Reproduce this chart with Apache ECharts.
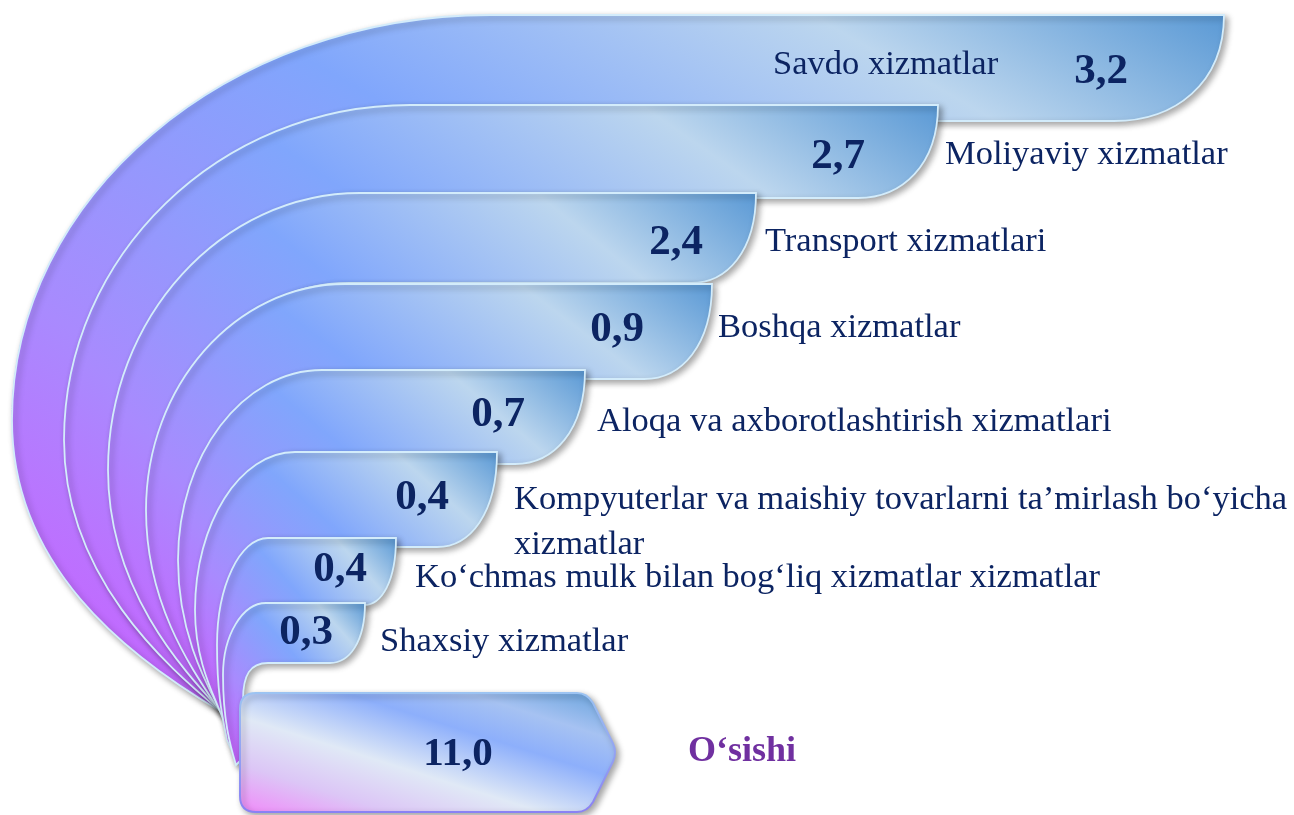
<!DOCTYPE html>
<html>
<head>
<meta charset="utf-8">
<script src="https://cdn.jsdelivr.net/npm/echarts@6/dist/echarts.min.js"></script>
<style>html,body{margin:0;padding:0;background:#fff}#chart{width:1294px;height:815px}</style>
</head>
<body>
<div id="chart"></div>
<script>
// ---------------- data ----------------
const categories = [
  'Savdo xizmatlar',
  'Moliyaviy xizmatlar',
  'Transport xizmatlari',
  'Boshqa xizmatlar',
  'Aloqa va axborotlashtirish xizmatlari',
  'Kompyuterlar va maishiy tovarlarni ta’mirlash bo‘yicha\nxizmatlar',
  'Ko‘chmas mulk bilan bog‘liq xizmatlar xizmatlar',
  'Shaxsiy xizmatlar'
];
const values = [3.2, 2.7, 2.4, 0.9, 0.7, 0.4, 0.4, 0.3];
const totalName = 'O‘sishi';
const totalValue = 11.0;

// ---------------- layout (decorative geometry, in axis units) ----------------
// yt, yb, xr, rx, xf, xl, yl, bx, by, c2x, c2y
const bandGeom = [
  [15, 121, 1224, 110, 490, 12, 420, 222, 712, 125, 655],
  [105, 198, 938, 80, 410, 64, 440, 222, 712, 165, 665],
  [193, 283, 756, 65, 360, 108, 470, 222, 712, 185, 672],
  [284, 379, 712, 68, 345, 146, 510, 222, 714, 200, 680],
  [370, 464, 585, 70, 322, 178, 560, 223, 716, 210, 690],
  [452, 547, 497, 60, 295, 195, 610, 224, 722, 217, 700],
  [538, 605, 396, 32, 268, 217, 645, 227, 740, 222, 715],
  [603, 663, 365, 35, 266, 223, 675, 236, 765, 230, 745]
];
// labelX, labelY, valueX, valueY
const textPos = [
  [773, 65, 1101, 72],
  [945, 155, 838, 157],
  [765, 242, 676, 243],
  [718, 328, 617, 330],
  [597, 422, 498, 415],
  [514, 522, 422, 498],
  [415, 578, 340, 570],
  [380, 642, 306, 633]
];
const boxGeom = { x0: 240, y0: 693, y1: 812, xf: 583, xt: 617, r: 16 };
const totalPos = { vx: 458, vy: 754, lx: 688, ly: 752 };

const fmt = v => v.toFixed(1).replace('.', ',');
const NAVY = '#0c2462';
const SERIF = '"Liberation Serif", "Times New Roman", serif';

const bandStops = [
  { offset: 0, color: '#5a99d5' },
  { offset: 0.17, color: '#bcd6ee' },
  { offset: 0.41, color: '#80a6fc' },
  { offset: 0.7, color: '#a98afe' },
  { offset: 1, color: '#cc5cff' }
];
const boxStops = [
  { offset: 0, color: '#62a0da' },
  { offset: 0.2, color: '#a6c2f2' },
  { offset: 0.36, color: '#8daffb' },
  { offset: 0.6, color: '#e0e9f6' },
  { offset: 0.8, color: '#dcc6f6' },
  { offset: 1, color: '#f08af9' }
];

// gradient whose iso-lines follow the box diagonal (top-left -> bottom-right),
// running from the top-right corner to the bottom-left corner
function diagGradient(p0, p1, stops) {
  const x0 = p0[0], y0 = p0[1], x1 = p1[0], y1 = p1[1];
  const w = x1 - x0, h = y1 - y0, L = Math.hypot(w, h);
  const ux = -h / L, uy = w / L, len = 2 * w * h / L;
  return new echarts.graphic.LinearGradient(x1, y0, x1 + ux * len, y0 + uy * len, stops, true);
}

function renderBand(params, api) {
  const i = api.value(0);
  const g = bandGeom[i];
  const n = bandGeom[i + 1];
  const P = (x, y) => {
    const p = api.coord([x, y]);
    return p[0].toFixed(1) + ' ' + p[1].toFixed(1);
  };
  const [yt, yb, xr, rx, xf, xl, yl, bx, by, c2x, c2y] = g;
  const k = 0.55;
  const h = yb - yt;
  let d = 'M' + P(bx, by);
  d += ' C' + P(c2x, c2y) + ' ' + P(xl, yl + 0.5 * (by - yl)) + ' ' + P(xl, yl);
  d += ' C' + P(xl, yl - k * (yl - yt)) + ' ' + P(xf - k * (xf - xl), yt) + ' ' + P(xf, yt);
  d += ' L' + P(xr, yt);
  d += ' C' + P(xr, yt + 0.65 * h) + ' ' + P(xr - 0.45 * rx, yb) + ' ' + P(xr - rx, yb);
  if (n) {
    const [nyt, nyb, nxr, nrx, nxf, nxl, nyl, nbx, nby, nc2x, nc2y] = n;
    const ins = 7;
    d += ' L' + P(nxf + 4, yb);
    d += ' C' + P(nxf - k * (nxf - nxl) + 4, yb) + ' ' + P(nxl + ins, nyl - k * (nyl - yb)) + ' ' + P(nxl + ins, nyl);
    d += ' C' + P(nxl + ins, nyl + 0.5 * (nby - nyl)) + ' ' + P(nc2x + 3, nc2y) + ' ' + P(nbx + 2, nby);
  } else {
    d += ' L' + P(268, yb);
    d += ' C' + P(250, yb) + ' ' + P(243, yb + 12) + ' ' + P(243, 700);
    d += ' L' + P(241, by - 5);
  }
  d += ' Z';
  const tp = textPos[i];
  const lp = api.coord([tp[0], tp[1]]);
  const vp = api.coord([tp[2], tp[3]]);
  const fill = diagGradient(api.coord([xl, yt]), api.coord([xr, by]), bandStops);
  return {
    type: 'group',
    children: [
      {
        type: 'path',
        shape: { pathData: d },
        style: {
          fill: fill,
          stroke: '#d3ecfb',
          lineWidth: 1.8,
          shadowBlur: 6,
          shadowOffsetX: 3,
          shadowOffsetY: 3,
          shadowColor: 'rgba(0,0,0,0.35)'
        }
      },
      {
        type: 'text', x: vp[0], y: vp[1], z2: 50,
        style: {
          text: fmt(api.value(1)), fill: NAVY, fontFamily: SERIF,
          fontSize: 43, fontWeight: 'bold', align: 'center', verticalAlign: 'middle'
        }
      },
      {
        type: 'text', x: lp[0], y: lp[1], z2: 50,
        style: {
          text: categories[i], fill: NAVY, fontFamily: SERIF,
          fontSize: 34.5, lineHeight: 45, align: 'left', verticalAlign: 'middle'
        }
      }
    ]
  };
}

function renderTotal(params, api) {
  const b = boxGeom;
  const P = (x, y) => {
    const p = api.coord([x, y]);
    return p[0].toFixed(1) + ' ' + p[1].toFixed(1);
  };
  const ym = (b.y0 + b.y1) / 2;
  let d = 'M' + P(b.x0 + b.r, b.y0);
  d += ' L' + P(b.xf - 6, b.y0);
  d += ' Q' + P(b.xf + 4, b.y0) + ' ' + P(b.xf + 10, b.y0 + 10);
  d += ' L' + P(b.xt - 4, ym - 9);
  d += ' Q' + P(b.xt, ym) + ' ' + P(b.xt - 4, ym + 9);
  d += ' L' + P(b.xf + 10, b.y1 - 10);
  d += ' Q' + P(b.xf + 4, b.y1) + ' ' + P(b.xf - 6, b.y1);
  d += ' L' + P(b.x0 + b.r, b.y1);
  d += ' Q' + P(b.x0, b.y1) + ' ' + P(b.x0, b.y1 - b.r);
  d += ' L' + P(b.x0, b.y0 + b.r);
  d += ' Q' + P(b.x0, b.y0) + ' ' + P(b.x0 + b.r, b.y0);
  d += ' Z';
  const vp = api.coord([totalPos.vx, totalPos.vy]);
  const lp = api.coord([totalPos.lx, totalPos.ly]);
  const fill = diagGradient(api.coord([b.x0, b.y0]), api.coord([b.xt, b.y1]), boxStops);
  const stroke = new echarts.graphic.LinearGradient(0, 0, 0, 1, [
    { offset: 0, color: '#9cc4f2' },
    { offset: 1, color: '#8a80f4' }
  ]);
  return {
    type: 'group',
    children: [
      {
        type: 'path',
        shape: { pathData: d },
        style: {
          fill: fill,
          stroke: stroke,
          lineWidth: 2,
          shadowBlur: 6,
          shadowOffsetX: 3,
          shadowOffsetY: 3,
          shadowColor: 'rgba(0,0,0,0.35)'
        }
      },
      {
        type: 'text', x: vp[0], y: vp[1], z2: 50,
        style: {
          text: fmt(api.value(1)), fill: NAVY, fontFamily: SERIF,
          fontSize: 41, fontWeight: 'bold', align: 'center', verticalAlign: 'middle'
        }
      },
      {
        type: 'text', x: lp[0], y: lp[1], z2: 50,
        style: {
          text: totalName, fill: '#7030a0', fontFamily: SERIF,
          fontSize: 36, fontWeight: 'bold', align: 'left', verticalAlign: 'middle'
        }
      }
    ]
  };
}

const chart = echarts.init(document.getElementById('chart'), null, { renderer: 'canvas' });
chart.setOption({
  animation: false,
  backgroundColor: '#ffffff',
  grid: { left: 0, right: 0, top: 0, bottom: 0 },
  xAxis: { type: 'value', min: 0, max: 1294, show: false },
  yAxis: { type: 'value', min: 0, max: 815, inverse: true, show: false },
  tooltip: { show: false },
  series: [
    {
      type: 'custom',
      name: 'Xizmatlar',
      z: 2,
      renderItem: renderBand,
      data: values.map((v, i) => [i, v]),
      silent: true
    },
    {
      type: 'custom',
      name: totalName,
      z: 3,
      renderItem: renderTotal,
      data: [[0, totalValue]],
      silent: true
    }
  ]
});
</script>
</body>
</html>
